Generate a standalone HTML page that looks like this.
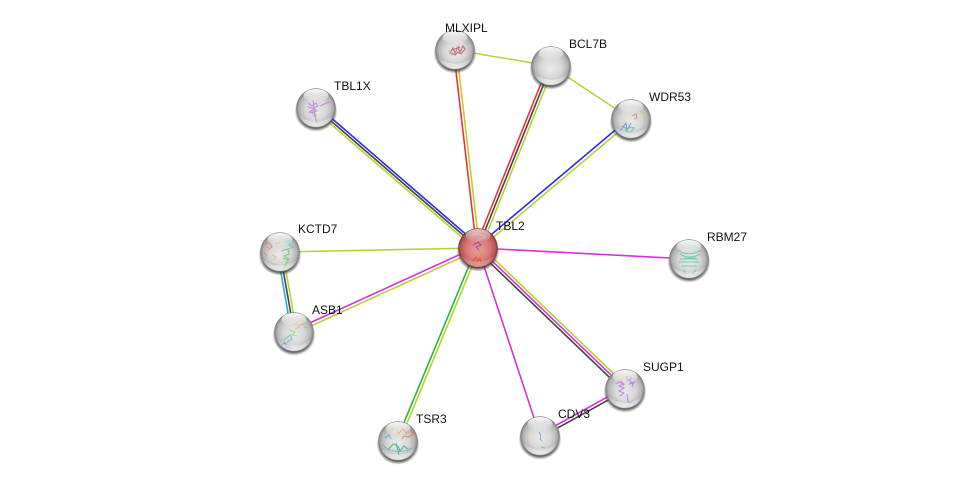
<!DOCTYPE html>
<html><head><meta charset="utf-8"><style>
html,body{margin:0;padding:0;background:#fff}
svg{display:block}
text{font-family:"Liberation Sans",sans-serif;font-size:12px;fill:#111}
line{stroke-width:1.6}
.s{fill:none;stroke-width:1.1;opacity:.7}
</style></head><body>
<svg width="976" height="486" viewBox="0 0 976 486" xmlns="http://www.w3.org/2000/svg">
<defs>
<radialGradient id="g" cx="50%" cy="50%" r="50%" fx="50%" fy="58%">
<stop offset="0" stop-color="#ebebeb"/><stop offset=".55" stop-color="#d6d6d6"/><stop offset=".85" stop-color="#b2b2b2"/><stop offset=".96" stop-color="#888"/><stop offset="1" stop-color="#7c7c7c"/>
</radialGradient>
<radialGradient id="r" cx="50%" cy="50%" r="50%" fx="50%" fy="58%">
<stop offset="0" stop-color="#eaa0a0"/><stop offset=".6" stop-color="#d87878"/><stop offset=".88" stop-color="#b85454"/><stop offset="1" stop-color="#7a3232"/>
</radialGradient>
<linearGradient id="h" x1="0" y1="0" x2="0" y2="1">
<stop offset="0" stop-color="#fff" stop-opacity=".98"/><stop offset="1" stop-color="#fff" stop-opacity=".05"/>
</linearGradient>
<linearGradient id="b" x1="0" y1="0" x2="0" y2="1">
<stop offset="0" stop-color="#fff" stop-opacity="0"/><stop offset="1" stop-color="#fff" stop-opacity=".8"/>
</linearGradient>
<radialGradient id="sh"><stop offset=".82" stop-color="#2a2a2a" stop-opacity=".8"/><stop offset="1" stop-color="#555" stop-opacity="0"/></radialGradient>
<g id="n">
<ellipse cx="0" cy="3.2" rx="21.5" ry="20.5" fill="url(#sh)"/>
<circle r="19.8" fill="url(#g)"/>
</g>
<g id="m">
<ellipse cx="0" cy="-12.5" rx="12.5" ry="6.5" fill="url(#h)"/>
<path d="M-18 6A19 19 0 0 0 18 6A25 25 0 0 1-18 6Z" fill="url(#b)"/>
</g>
</defs>

<!-- edges -->
<g>
<line x1="479.6" y1="246.1" x2="317.6" y2="106.1" stroke="#2a2aee"/>
<line x1="478" y1="248" x2="316" y2="108" stroke="#444"/>
<line x1="476.4" y1="249.9" x2="314.4" y2="109.9" stroke="#b5d334"/>

<line x1="476.5" y1="248" x2="453.5" y2="50" stroke="#f53030"/>
<line x1="479.5" y1="248" x2="456.5" y2="50" stroke="#b5d334"/>

<line x1="475.4" y1="247" x2="548.4" y2="65" stroke="#f53030"/>
<line x1="478" y1="248" x2="551" y2="66" stroke="#444"/>
<line x1="480.6" y1="249" x2="553.6" y2="67" stroke="#b5d334"/>

<line x1="476.9" y1="246.7" x2="629.9" y2="117.7" stroke="#2a2aee"/>
<line x1="479.1" y1="249.3" x2="632.1" y2="120.3" stroke="#b5d334"/>

<line x1="478" y1="248" x2="280" y2="252" stroke="#b5d334"/>
<line x1="478" y1="248" x2="689" y2="259" stroke="#d82fd8"/>

<line x1="477.3" y1="246.5" x2="293.3" y2="330.5" stroke="#d82fd8"/>
<line x1="478.7" y1="249.5" x2="294.7" y2="333.5" stroke="#b5d334"/>

<line x1="476.6" y1="247.4" x2="396.6" y2="440.4" stroke="#2cb82c"/>
<line x1="479.4" y1="248.6" x2="399.4" y2="441.6" stroke="#b5d334"/>

<line x1="478" y1="248" x2="540" y2="436" stroke="#d82fd8"/>

<line x1="480.2" y1="245.7" x2="627.2" y2="386.7" stroke="#b5d334"/>
<line x1="478.3" y1="247.7" x2="625.3" y2="388.7" stroke="#d82fd8"/>
<line x1="476.4" y1="249.7" x2="623.4" y2="390.7" stroke="#444"/>

<line x1="277.4" y1="252.4" x2="291.4" y2="332.4" stroke="#22b0d8"/>
<line x1="280" y1="252" x2="294" y2="332" stroke="#444"/>
<line x1="282.6" y1="251.6" x2="296.6" y2="331.6" stroke="#b5d334"/>

<line x1="539.2" y1="434.7" x2="624.2" y2="387.7" stroke="#d82fd8"/>
<line x1="540.8" y1="437.3" x2="625.8" y2="390.3" stroke="#444"/>

<line x1="455" y1="50" x2="551" y2="66" stroke="#b5d334"/>
<line x1="551" y1="66" x2="631" y2="119" stroke="#b5d334"/>
</g>

<!-- nodes -->
<use href="#n" x="455" y="50"/>
<use href="#n" x="551" y="66"/>
<use href="#n" x="631" y="119"/>
<use href="#n" x="316" y="108"/>
<use href="#n" x="280" y="252"/>
<use href="#n" x="294" y="332"/>
<use href="#n" x="398" y="441"/>
<use href="#n" x="540" y="436"/>
<use href="#n" x="625" y="389"/>
<use href="#n" x="689" y="259"/>
<ellipse cx="478" cy="251.2" rx="21.5" ry="20.5" fill="url(#sh)"/>
<circle cx="478" cy="248" r="19.8" fill="url(#r)"/>

<!-- structures -->
<path class="s" stroke="#a8404c" d="M450 53l3-5 2 5 3-6 2 5 3-6 2 3-4 5-3-2-3 3-3-2zM452 50l8-3"/>
<path class="s" stroke="#a8a8cc" d="M449 50l3 5 3-1"/>

<path class="s" stroke="#5a86d8" d="M620 131l6-8 1 7 4-7M622 126l5 3"/>
<path class="s" stroke="#3ec89a" stroke-width="2" d="M625 131l5-4 4 1-3 4-5 0"/>
<path class="s" stroke="#c8795a" d="M632 116l4-2 1 4-3 1"/>
<path class="s" stroke="#b8dc8c" stroke-width="2" d="M640 114l4-4 2 5-3 4"/>

<path class="s" stroke="#b070d8" d="M308 103l4 3 4-3 2 3-5 2 4 3-5 1 4 3-3 1M313 100l2 16 2 7M320 106l9-4M308 107l7 2-6 3 6 2"/>

<path class="s" stroke="#e07a6a" d="M264 245l5-3 3 5-4 3M264 252l3 4M266 247l3 1"/>
<path class="s" stroke="#e0b070" d="M272 240l6-1 2 4-5 1"/>
<path class="s" stroke="#5ccab8" stroke-width="1.5" d="M283 240l8 0-2 5 5 2-6 2M286 237l4 4-5 2"/>
<path class="s" stroke="#58c858" stroke-width="1.6" d="M281 251l7-2 1 5-5 2 5 3-3 5-3 4 5-1M283 258l5 2"/>
<path class="s" stroke="#c8c050" d="M272 255l4 2-2 3M270 264l6 0"/>

<path class="s" stroke="#d8c858" d="M292 325l5-2 2 4-4 2"/>
<path class="s" stroke="#e08a50" d="M300 325l5-2M304 327l3 1"/>
<path class="s" stroke="#78d868" stroke-width="1.5" d="M289 330l6 2-3 3 5 1"/>
<path class="s" stroke="#38c0b0" stroke-width="1.5" d="M284 340l6-5 2 4-5 3"/>
<path class="s" stroke="#5a68c8" stroke-width="1.5" d="M281 345l4-2 2 4 4 1-3 3-4-1 3-4"/>

<path class="s" stroke="#e0703a" stroke-width="1.6" d="M398 434l5-5 3 4 4-4 3 5-4 3-5-1-2 3"/>
<path class="s" stroke="#d8c040" stroke-width="1.5" d="M391 432l4-5 3 4-2 3"/>
<path class="s" stroke="#4a9ad8" d="M385 438l4-3 2 4"/>
<path class="s" stroke="#1ca878" stroke-width="1.5" d="M388 450l5-6 5 2 2 5 4-5 4 3M396 443l3 12"/>
<path class="s" stroke="#60b8c0" d="M382 444c5 8 20 10 30 4"/>

<path class="s" stroke="#7a8ad0" d="M539 432l2 4-1 3 2 2"/>
<path class="s" stroke="#e0c8a0" d="M528 432l1 3"/>
<path class="s" stroke="#70c070" d="M541 447l4 1"/>

<path class="s" stroke="#b468d8" stroke-width="1.5" d="M616 384l5-3 3 3-5 2 5 2-5 3 5 2-4 3M626 376l2 5 3-3-1 6 4-2-2 5M627 394l1 8 4 1M618 381l6 4M630 380l3 5"/>

<path class="s" stroke="#4ac0a8" stroke-width="1.4" d="M678 250c6 5 16 5 22 0M680 254c5 4 14 4 20 0M679 262l20 0M681 266l16 0M683 270l4 4M696 270l-4 4M680 259l18 0"/>
<path class="s" stroke="#9ac8c8" d="M680 244l18 0M682 247l14 0"/>
<path class="s" stroke="#50d090" stroke-width="1.6" d="M684 258l12 0M684 272l0 5M694 272l0 5"/>

<path class="s" stroke="#b8b8a0" d="M470 236l6-2 5 1 5 2-6 2-4 3"/>
<path class="s" stroke="#8a2aa8" d="M473 245l5-3 3 3-5 2 3 3"/>
<path class="s" stroke="#d89a30" d="M476 250l4 2 1 4-3 2"/>
<path class="s" stroke="#e04a2a" stroke-width="1.6" d="M473 261l3-4 2 4 2-3 1 5-4 3-3-2z"/>

<!-- gloss -->
<use href="#m" x="455" y="50"/>
<use href="#m" x="551" y="66"/>
<use href="#m" x="631" y="119"/>
<use href="#m" x="316" y="108"/>
<use href="#m" x="280" y="252"/>
<use href="#m" x="294" y="332"/>
<use href="#m" x="398" y="441"/>
<use href="#m" x="540" y="436"/>
<use href="#m" x="625" y="389"/>
<use href="#m" x="689" y="259"/>
<ellipse cx="478" cy="235.5" rx="12.5" ry="6.5" fill="url(#h)" opacity=".7"/>
<path d="M460 254A19 19 0 0 0 496 254A25 25 0 0 1 460 254Z" fill="url(#b)" opacity=".55"/>

<!-- labels -->
<text x="445" y="32">MLXIPL</text>
<text x="569" y="48">BCL7B</text>
<text x="649" y="101">WDR53</text>
<text x="334" y="90">TBL1X</text>
<text x="496" y="230">TBL2</text>
<text x="298" y="233">KCTD7</text>
<text x="707" y="241">RBM27</text>
<text x="312" y="314">ASB1</text>
<text x="643" y="371">SUGP1</text>
<text x="558" y="418">CDV3</text>
<text x="416" y="423">TSR3</text>
</svg>
</body></html>
